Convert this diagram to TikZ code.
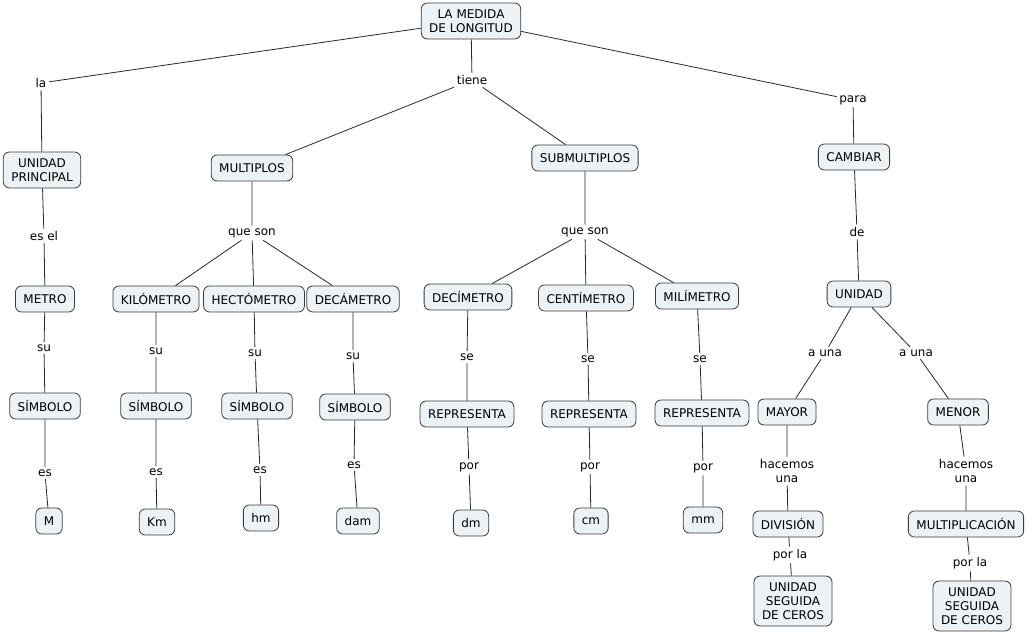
\documentclass[tikz,border=0pt]{standalone}
\usepackage{fontspec}
\setmainfont{DejaVu Sans}
\definecolor{cfill}{RGB}{236,242,245}
\definecolor{bordc}{RGB}{60,60,60}
\definecolor{linec}{RGB}{40,40,40}
\newcommand{\fnt}{\fontsize{12}{14}\selectfont}
\begin{document}
\begin{tikzpicture}[x=1pt,y=-1pt,
 cp/.style={draw=bordc, line width=0.8pt, rounded corners=6pt, fill=cfill, inner xsep=8pt, inner ysep=6.5pt, align=center, minimum height=26pt, font=\fnt},
 lk/.style={inner sep=2.5pt, align=center, font=\fnt},
 ln/.style={draw=linec, line width=0.8pt}]
\useasboundingbox (0,0) rectangle (1029,636);
% concepts
\node[cp] (top) at (471,21) {LA MEDIDA\\DE LONGITUD};
\node[cp] (up) at (42,170) {UNIDAD\\PRINCIPAL};
\node[cp] (mul) at (252,168) {MULTIPLOS};
\node[cp] (sub) at (585,158) {SUBMULTIPLOS};
\node[cp] (cam) at (854,157) {CAMBIAR};
\node[cp] (met) at (45,299) {METRO};
\node[cp] (km) at (156,299) {KILÓMETRO};
\node[cp] (hm) at (254,299) {HECTÓMETRO};
\node[cp] (dam) at (353,299) {DECÁMETRO};
\node[cp] (dm) at (468,297) {DECÍMETRO};
\node[cp] (cm) at (586,298) {CENTÍMETRO};
\node[cp] (mm) at (697,296) {MILÍMETRO};
\node[cp] (uni) at (859,294) {UNIDAD};
\node[cp] (s1) at (45,406) {SÍMBOLO};
\node[cp] (s2) at (156,406) {SÍMBOLO};
\node[cp] (s3) at (257,406) {SÍMBOLO};
\node[cp] (s4) at (355,407) {SÍMBOLO};
\node[cp] (r1) at (467,414) {REPRESENTA};
\node[cp] (r2) at (589,414) {REPRESENTA};
\node[cp] (r3) at (702,413) {REPRESENTA};
\node[cp] (may) at (787,412) {MAYOR};
\node[cp] (men) at (958,412) {MENOR};
\node[cp] (vM) at (49,521) {M};
\node[cp] (vKm) at (157,522) {Km};
\node[cp] (vhm) at (261,518) {hm};
\node[cp] (vdam) at (358,521) {dam};
\node[cp] (vdm) at (471,523) {dm};
\node[cp] (vcm) at (591,521) {cm};
\node[cp] (vmm) at (703,520) {mm};
\node[cp] (div) at (788,524) {DIVISIÓN};
\node[cp] (mlt) at (966,524) {MULTIPLICACIÓN};
\node[cp] (usc1) at (793,601) {UNIDAD\\SEGUIDA\\DE CEROS};
\node[cp] (usc2) at (972,606) {UNIDAD\\SEGUIDA\\DE CEROS};
% linking phrases
\node[lk] (la) at (41,83) {la};
\node[lk] (tiene) at (472,80) {tiene};
\node[lk] (para) at (853,100) {para};
\node[lk] (esel) at (44,236) {es el};
\node[lk] (qs1) at (252,233) {que son};
\node[lk] (qs2) at (585,232) {que son};
\node[lk] (de) at (857,232) {de};
\node[lk] (su1) at (44,348) {su};
\node[lk] (su2) at (156,351) {su};
\node[lk] (su3) at (255,353) {su};
\node[lk] (su4) at (353,356) {su};
\node[lk] (es1) at (45,473) {es};
\node[lk] (es2) at (156,472) {es};
\node[lk] (es3) at (260,470) {es};
\node[lk] (es4) at (354,465) {es};
\node[lk] (se1) at (467,357) {se};
\node[lk] (se2) at (588,359) {se};
\node[lk] (se3) at (700,359) {se};
\node[lk] (por1) at (469,467) {por};
\node[lk] (por2) at (590,467) {por};
\node[lk] (por3) at (703,468) {por};
\node[lk] (au1) at (825,353) {a una};
\node[lk] (au2) at (916,353) {a una};
\node[lk] (hu1) at (787,471) {hacemos\\una};
\node[lk] (hu2) at (966,471) {hacemos\\una};
\node[lk] (pl1) at (790,555) {por la};
\node[lk] (pl2) at (970,563) {por la};
% connectors
\draw[ln] (top) -- (la) (la) -- (up);
\draw[ln] (top) -- (tiene) (tiene) -- (mul) (tiene) -- (sub);
\draw[ln] (top) -- (para) (para) -- (cam);
\draw[ln] (up) -- (esel) (esel) -- (met);
\draw[ln] (met) -- (su1) (su1) -- (s1) (s1) -- (es1) (es1) -- (vM);
\draw[ln] (mul) -- (qs1) (qs1) -- (km) (qs1) -- (hm) (qs1) -- (dam);
\draw[ln] (km) -- (su2) (su2) -- (s2) (s2) -- (es2) (es2) -- (vKm);
\draw[ln] (hm) -- (su3) (su3) -- (s3) (s3) -- (es3) (es3) -- (vhm);
\draw[ln] (dam) -- (su4) (su4) -- (s4) (s4) -- (es4) (es4) -- (vdam);
\draw[ln] (sub) -- (qs2) (qs2) -- (dm) (qs2) -- (cm) (qs2) -- (mm);
\draw[ln] (dm) -- (se1) (se1) -- (r1) (r1) -- (por1) (por1) -- (vdm);
\draw[ln] (cm) -- (se2) (se2) -- (r2) (r2) -- (por2) (por2) -- (vcm);
\draw[ln] (mm) -- (se3) (se3) -- (r3) (r3) -- (por3) (por3) -- (vmm);
\draw[ln] (cam) -- (de) (de) -- (uni);
\draw[ln] (uni) -- (au1) (au1) -- (may) (uni) -- (au2) (au2) -- (men);
\draw[ln] (may) -- (hu1) (hu1) -- (div) (div) -- (pl1) (pl1) -- (usc1);
\draw[ln] (men) -- (hu2) (hu2) -- (mlt) (mlt) -- (pl2) (pl2) -- (usc2);
\end{tikzpicture}
\end{document}
